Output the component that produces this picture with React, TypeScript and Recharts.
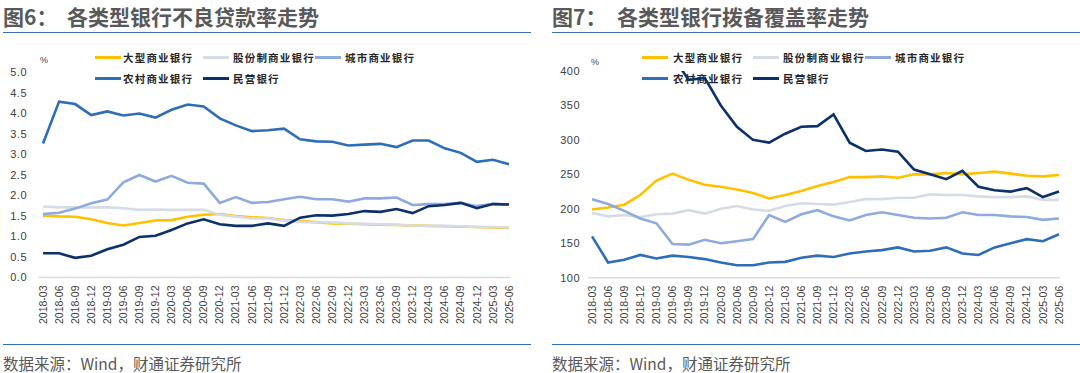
import { LineChart, Line, XAxis, YAxis } from 'recharts';

const quarters = [
  '2018-03', '2018-06', '2018-09', '2018-12',
  '2019-03', '2019-06', '2019-09', '2019-12',
  '2020-03', '2020-06', '2020-09', '2020-12',
  '2021-03', '2021-06', '2021-09', '2021-12',
  '2022-03', '2022-06', '2022-09', '2022-12',
  '2023-03', '2023-06', '2023-09', '2023-12',
  '2024-03', '2024-06', '2024-09', '2024-12',
  '2025-03', '2025-06',
];

const seriesNames = ['大型商业银行', '股份制商业银行', '城市商业银行', '农村商业银行', '民营银行'];
const seriesColors = ['#FFC000', '#D6DCE5', '#8FAADC', '#2E6DB8', '#0C306A'];

// 不良贷款率 (%)
const nplLarge = [1.51, 1.49, 1.48, 1.42, 1.33, 1.27, 1.33, 1.39, 1.40, 1.48, 1.53, 1.55, 1.50, 1.47, 1.45, 1.40, 1.38, 1.35, 1.32, 1.31, 1.30, 1.29, 1.28, 1.27, 1.26, 1.25, 1.24, 1.23, 1.22, 1.21];
const nplJoint = [1.73, 1.71, 1.71, 1.71, 1.71, 1.69, 1.65, 1.66, 1.65, 1.65, 1.65, 1.53, 1.48, 1.44, 1.44, 1.39, 1.35, 1.35, 1.34, 1.32, 1.31, 1.30, 1.29, 1.27, 1.26, 1.26, 1.25, 1.23, 1.23, 1.22];
const nplCity = [1.55, 1.58, 1.68, 1.81, 1.90, 2.32, 2.50, 2.34, 2.48, 2.31, 2.29, 1.82, 1.96, 1.82, 1.84, 1.91, 1.97, 1.91, 1.91, 1.85, 1.93, 1.93, 1.95, 1.77, 1.79, 1.79, 1.82, 1.74, 1.80, 1.78];
const nplRural = [3.27, 4.29, 4.23, 3.96, 4.05, 3.95, 4.00, 3.90, 4.09, 4.22, 4.17, 3.88, 3.71, 3.57, 3.59, 3.63, 3.37, 3.32, 3.31, 3.22, 3.24, 3.26, 3.18, 3.34, 3.34, 3.15, 3.04, 2.82, 2.87, 2.76];
const nplPrivate = [0.59, 0.59, 0.48, 0.53, 0.69, 0.80, 0.99, 1.02, 1.16, 1.32, 1.42, 1.30, 1.26, 1.26, 1.32, 1.26, 1.46, 1.52, 1.51, 1.55, 1.62, 1.60, 1.67, 1.57, 1.74, 1.77, 1.82, 1.69, 1.79, 1.78];

// 拨备覆盖率 (%)
const covLarge = [199, 202, 206, 220, 241, 251, 242, 235, 232, 228, 223, 215, 220, 226, 233, 239, 246, 246, 247, 245, 250, 250, 252, 250, 252, 254, 251, 248, 247, 249];
const covJoint = [194, 189, 191, 188, 192, 193, 198, 193, 200, 204, 199, 197, 204, 208, 207, 206, 210, 214, 214, 216, 216, 221, 220, 220, 218, 217, 217, 218, 213, 213];
const covCity = [214, 207, 197, 186, 179, 149, 148, 155, 150, 153, 156, 191, 181, 192, 198, 189, 183, 191, 195, 191, 187, 186, 187, 195, 191, 191, 189, 188, 184, 186];
const covRural = [160, 122, 126, 133, 128, 132, 130, 127, 122, 118, 118, 122, 123, 129, 132, 130, 135, 138, 140, 144, 138, 139, 144, 135, 133, 144, 150, 156, 153, 163];
const covPrivate = [720, 690, 640, 600, 480, 422, 387, 390, 350, 319, 300, 296, 309, 319, 320, 337, 296, 284, 286, 283, 257, 250, 243, 255, 232, 227, 225, 230, 217, 225];

const nplTicks = [0, 0.5, 1, 1.5, 2, 2.5, 3, 3.5, 4, 4.5, 5];
const covTicks = [100, 150, 200, 250, 300, 350, 400];

const CJK = '"Noto Sans CJK SC", "Noto Sans", sans-serif';
const LATIN = '"Liberation Sans", Arial, sans-serif';
const CHART_H = 340;

function buildRows(series: number[][]) {
  return quarters.map((q, i) => {
    const row: Record<string, string | number> = { q };
    series.forEach((s, k) => {
      row['s' + k] = s[i];
    });
    return row;
  });
}

const nplRows = buildRows([nplLarge, nplJoint, nplCity, nplRural, nplPrivate]);
const covRows = buildRows([covLarge, covJoint, covCity, covRural, covPrivate]);

function XTick(props: any) {
  const { x, y, payload } = props;
  return (
    <text
      x={x}
      y={y}
      transform={`rotate(-90 ${x} ${y})`}
      textAnchor="end"
      dy="0.35em"
      fontSize={10.5}
      fontFamily={LATIN}
      fill="#404040"
    >
      {payload.value}
    </text>
  );
}

interface PanelProps {
  left: number;
  figNo: string;
  title: string;
  titleX: number;
  rows: Record<string, string | number>[];
  domain: [number, number];
  ticks: number[];
  fmt: (v: number) => string;
  yWidth: number;
  tickMargin: number;
  top: number;
  bottom: number;
  marginRight: number;
  lineX: number[];
  textX: number[];
  pctX: number;
  pctY: number;
  ruleStart: number;
  ruleEnd: number;
}

function Panel(p: PanelProps) {
  const rowY = [57.5, 78.5];
  const legendSlots = [
    [0, 0], [1, 0], [2, 0], [0, 1], [1, 1],
  ];
  return (
    <div style={{ position: 'absolute', left: p.left, top: 0, width: 540, height: 373 }}>
      {/* title */}
      <div style={{ position: 'absolute', left: p.ruleStart, top: 4, fontFamily: CJK, fontSize: 21, lineHeight: '24px', fontWeight: 700, color: '#595959', whiteSpace: 'nowrap' }}>
        {p.figNo}
      </div>
      <div style={{ position: 'absolute', left: p.titleX, top: 4, fontFamily: CJK, fontSize: 21, lineHeight: '24px', fontWeight: 700, color: '#595959', whiteSpace: 'nowrap' }}>
        {p.title}
      </div>
      <div style={{ position: 'absolute', left: p.ruleStart, width: p.ruleEnd - p.ruleStart, top: 31.5, height: 1.5, background: '#3F6FB4' }} />

      {/* legend (drawn under the lines) */}
      {seriesNames.map((name, k) => {
        const [col, row] = legendSlots[k];
        const cy = rowY[row];
        return (
          <div key={name}>
            <div style={{ position: 'absolute', left: p.lineX[col], top: cy - 1.5, width: 26, height: 3, background: seriesColors[k] }} />
            <div style={{ position: 'absolute', left: p.textX[col], top: cy - 8, lineHeight: '16px', fontFamily: CJK, fontSize: 10.5, fontWeight: 700, letterSpacing: 1.2, color: '#262626', whiteSpace: 'nowrap' }}>
              {name}
            </div>
          </div>
        );
      })}
      <div style={{ position: 'absolute', left: p.pctX, top: p.pctY - 6, lineHeight: '12px', fontFamily: LATIN, fontSize: 9, color: '#404040' }}>%</div>

      <div style={{ position: 'absolute', left: 0, top: 0 }}>
        <LineChart
          width={540}
          height={CHART_H}
          data={p.rows}
          margin={{ top: p.top, right: p.marginRight, bottom: CHART_H - p.bottom - 50, left: 0 }}
        >
          <XAxis
            dataKey="q"
            interval={0}
            height={50}
            tick={<XTick />}
            tickLine={false}
            axisLine={{ stroke: '#D9D9D9', strokeWidth: 1.5 }}
            padding={{ left: 4, right: 1 }}
          />
          <YAxis
            width={p.yWidth}
            domain={p.domain}
            ticks={p.ticks}
            allowDataOverflow
            axisLine={false}
            tickLine={false}
            tickMargin={p.tickMargin}
            tickFormatter={p.fmt}
            tick={{ fontSize: 11, fill: '#404040', fontFamily: LATIN, letterSpacing: 0.5 }}
          />
          {seriesNames.map((name, k) => (
            <Line
              key={name}
              dataKey={'s' + k}
              name={name}
              stroke={seriesColors[k]}
              strokeWidth={2.6}
              dot={false}
              activeDot={false}
              isAnimationActive={false}
            />
          ))}
        </LineChart>
      </div>

      {/* footer */}
      <div style={{ position: 'absolute', left: p.ruleStart, width: p.ruleEnd - p.ruleStart, top: 343.5, height: 1.5, background: '#2F6DB5' }} />
      <div style={{ position: 'absolute', left: p.ruleStart, top: 354, lineHeight: '18px', fontFamily: CJK, fontSize: 15.5, color: '#595959', whiteSpace: 'nowrap' }}>
        数据来源：Wind，财通证券研究所
      </div>
    </div>
  );
}

export default function App() {
  return (
    <div style={{ position: 'absolute', left: 0, top: 0, width: 1080, height: 373, background: '#fff', overflow: 'hidden' }}>
      <Panel
        left={0}
        figNo="图6："
        title="各类型银行不良贷款率走势"
        titleX={67}
        rows={nplRows}
        domain={[0, 5]}
        ticks={nplTicks}
        fmt={(v) => v.toFixed(1)}
        yWidth={39}
        tickMargin={6}
        top={72.5}
        bottom={277.5}
        marginRight={30}
        lineX={[95, 203, 315]}
        textX={[123, 233, 345]}
        pctX={40}
        pctY={60}
        ruleStart={3}
        ruleEnd={531}
      />
      <Panel
        left={540}
        figNo="图7："
        title="各类型银行拨备覆盖率走势"
        titleX={77}
        rows={covRows}
        domain={[100, 400]}
        ticks={covTicks}
        fmt={(v) => String(v)}
        yWidth={48}
        tickMargin={2}
        top={71}
        bottom={277.7}
        marginRight={20}
        lineX={[102, 213, 325]}
        textX={[133, 243, 355]}
        pctX={51}
        pctY={62}
        ruleStart={12}
        ruleEnd={540}
      />
    </div>
  );
}
